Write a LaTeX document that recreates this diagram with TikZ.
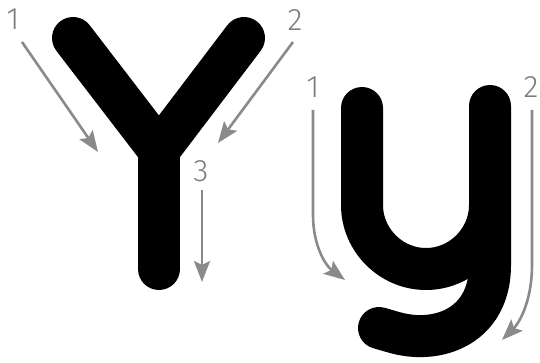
\documentclass[tikz,border=0pt]{standalone}
\usepackage{fontspec}
\newfontfamily\numfont{Fira Sans Light}
\usetikzlibrary{arrows.meta}
\definecolor{arrowgray}{HTML}{8A8A8A}
\definecolor{numgray}{HTML}{7C7C7C}
\tikzset{
  letter/.style={line width=42pt, line cap=round, line join=round, black},
  guide/.style={arrowgray, line width=2.6pt, -{Stealth[length=21pt,width=16pt,inset=4pt]}},
  num/.style={numgray, font=\numfont\fontsize{31}{31}\selectfont, inner sep=0pt}
}
\begin{document}
\begin{tikzpicture}[x=1pt,y=-1pt]
\useasboundingbox (0,0) rectangle (540,363);
% capital Y
\coordinate (Yl) at (73,38);
\coordinate (Yr) at (244,38);
\coordinate (Yj) at (159,150);
\coordinate (Yb) at (159,269);
\draw[letter] (Yl) -- (Yj) -- (Yr);
\draw[letter] (Yj) -- (Yb);
% small y
\coordinate (yl) at (362,108);
\coordinate (yr) at (490,106);
\coordinate (yt) at (379,328);
\draw[letter] (yl) -- (362,205) .. controls (362,240) and (391,269) .. (426,269)
  .. controls (461,269) and (490,240) .. (490,205);
\draw[letter] (yr) -- (490,265) .. controls (490,315) and (455,338) .. (415,336)
  .. controls (400,335) and (390,331) .. (yt);
% labels
\node[num] (n1) at (13,19) {1};
\node[num] (n2) at (295,20) {2};
\node[num] (n3) at (201,171) {3};
\node[num] (m1) at (313,87) {1};
\node[num] (m2) at (531,87) {2};
% arrow end points
\coordinate (a1s) at (22,42);
\coordinate (a1e) at (98,152);
\coordinate (a2s) at (293,42);
\coordinate (a2e) at (218,143);
\coordinate (a3s) at (202,190);
\coordinate (a3e) at (202,282);
\coordinate (b1s) at (313,110);
\coordinate (b1e) at (345,280);
\coordinate (b2s) at (532,110);
\coordinate (b2e) at (502,340);
\draw[guide] (a1s) -- (a1e);
\draw[guide] (a2s) -- (a2e);
\draw[guide] (a3s) -- (a3e);
\draw[guide] (b1s) -- (313,215) .. controls (313,245) and (325,265) .. (b1e);
\draw[guide] (b2s) -- (532,265) .. controls (532,300) and (520,322) .. (b2e);
\end{tikzpicture}
\end{document}
